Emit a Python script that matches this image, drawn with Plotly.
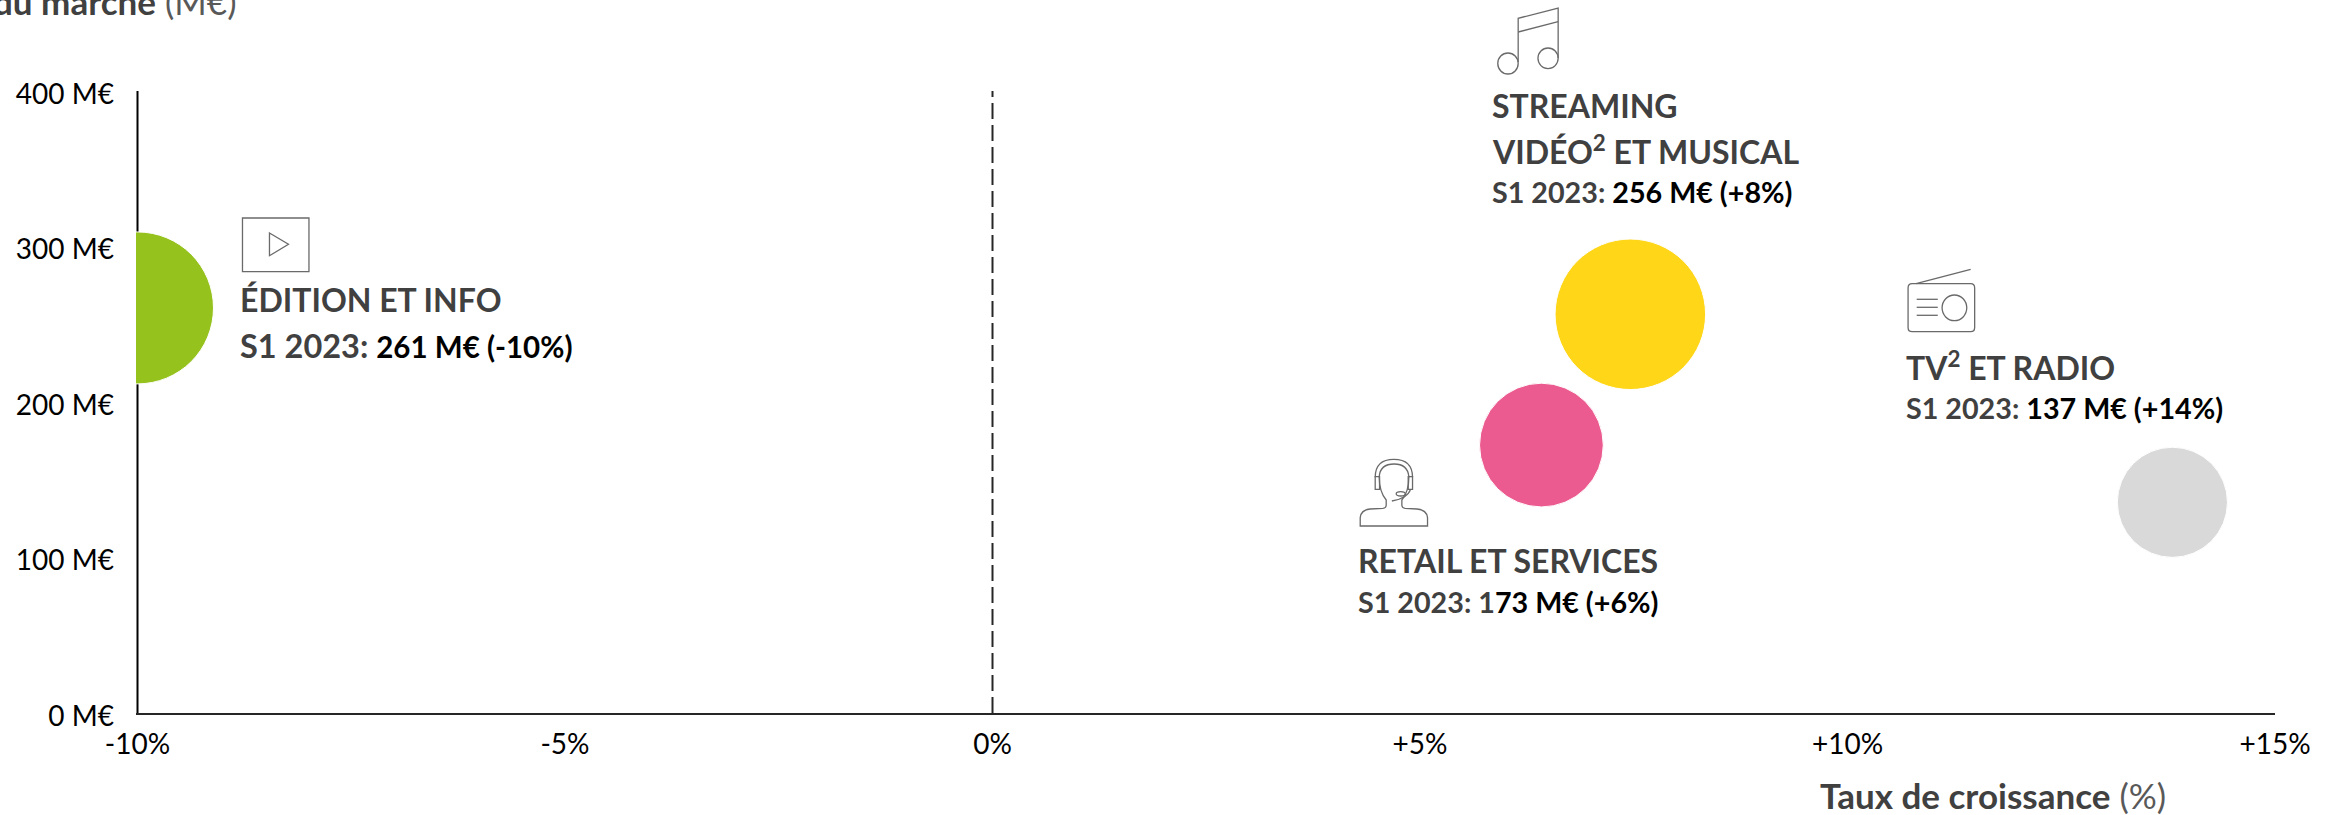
import plotly.graph_objects as go

# ---------- data ----------
segments = ["ÉDITION ET INFO", "STREAMING VIDÉO ET MUSICAL", "RETAIL ET SERVICES", "TV ET RADIO"]
growth = [-10, 7.46, 6.42, 13.8]
market = [260.5, 256.4, 172.3, 135.5]
bubble_size = [261, 256, 173, 137]
colors = ["#96C21D", "#FFD618", "#EC5B8F", "#D9D9D9"]
x_ticks = [-10, -5, 0, 5, 10, 15]
x_tick_labels = ["-10%", "-5%", "0%", "+5%", "+10%", "+15%"]
y_ticks = [0, 100, 200, 300, 400]
y_tick_labels = ["0 M€", "100 M€", "200 M€", "300 M€", "400 M€"]

FONT = "Lato"
GREY = "#404040"
W, H = 2333, 815
L, R, T, B = 135.5, 58, 91, 102
PW, PH = W - L - R, H - T - B


def px(x):
    return (x - L) / PW


def py(y):
    return (H - B - y) / PH


def P(x, y):
    return f"{px(x):.5f},{py(y):.5f}"


def path(*cmds):
    out = []
    for c in cmds:
        if isinstance(c, str):
            out.append(c)
        else:
            out.append(P(*c))
    return " ".join(out)


def ellipse_path(x0, x1, y0, y1):
    cx, cy = (x0 + x1) / 2, (y0 + y1) / 2
    rx, ry = (x1 - x0) / 2, (y1 - y0) / 2
    k = 0.5523
    return path(
        "M", (cx - rx, cy),
        "C", (cx - rx, cy - k * ry), (cx - k * rx, cy - ry), (cx, cy - ry),
        "C", (cx + k * rx, cy - ry), (cx + rx, cy - k * ry), (cx + rx, cy),
        "C", (cx + rx, cy + k * ry), (cx + k * rx, cy + ry), (cx, cy + ry),
        "C", (cx - k * rx, cy + ry), (cx - rx, cy + k * ry), (cx - rx, cy), "Z",
    )


def a(X, Y):
    # agent icon drawn in a 3x local grid
    return (1350 + X / 3, 450 + Y / 3)


fig = go.Figure()
fig.add_trace(go.Scatter(
    x=growth, y=market, mode="markers", text=segments, hoverinfo="text",
    marker=dict(size=bubble_size, sizemode="area", sizeref=1 / 44.25, color=colors,
                opacity=1, line=dict(color="white", width=1)),
    cliponaxis=True, showlegend=False,
))

icon_paths = [
    # play
    path("M", (242, 218), "L", (308.5, 218), "L", (308.5, 271.7), "L", (242, 271.7), "Z"),
    path("M", (269, 233), "L", (288, 244.3), "L", (269, 255.7), "Z"),
    # music
    ellipse_path(1497.6, 1518, 53, 74),
    ellipse_path(1537.8, 1558, 48, 68.7),
    path("M", (1518, 62), "L", (1518, 18.3), "L", (1558, 8), "L", (1558, 58)),
    path("M", (1518, 32), "L", (1558, 21.7)),
    # radio
    path("M", (1912, 283.7), "L", (1970.6, 283.7), "Q", (1974.6, 283.7), (1974.6, 288),
         "L", (1974.6, 327.5), "Q", (1974.6, 331.7), (1970.6, 331.7),
         "L", (1912, 331.7), "Q", (1908, 331.7), (1908, 327.5),
         "L", (1908, 288), "Q", (1908, 283.7), (1912, 283.7), "Z"),
    path("M", (1916, 283.7), "L", (1970.6, 269.3)),
    ellipse_path(1942, 1966.7, 295, 320.7),
    path("M", (1916.6, 299.3), "L", (1937.7, 299.3)),
    path("M", (1916.6, 307.3), "L", (1937.7, 307.3)),
    path("M", (1916.6, 315.3), "L", (1937.7, 315.3)),
    # agent: body, neck, head
    path("M", a(30, 228), "L", a(232, 228), "L", a(232, 203), "Q", a(230, 180), a(200, 177),
         "L", a(165, 175), "Q", a(155, 174), a(155, 165), "L", a(155, 150),
         "Q", a(176, 125), a(176, 80), "Q", a(172, 42), a(132, 42), "Q", a(90, 42), a(87, 80),
         "Q", a(87, 125), a(108, 150), "L", a(108, 165), "Q", a(108, 174), a(98, 175),
         "L", a(60, 177), "Q", a(32, 180), a(30, 203), "Z"),
    # agent: headset arc, ear cups, microphone
    path("M", a(75, 82), "Q", a(75, 28), a(131, 28), "Q", a(187, 28), a(187, 82)),
    path("M", a(75, 80), "L", a(88, 80), "L", a(88, 118), "L", a(75, 118), "Z"),
    path("M", a(174, 80), "L", a(187, 80), "L", a(187, 118), "L", a(174, 118), "Z"),
    path("M", a(181, 118), "Q", a(172, 145), a(125, 153)),
    ellipse_path(*a(138, 125)[:1], *a(165, 125)[:1], *a(0, 125)[1:], *a(0, 138)[1:]),
]

shapes = [
    dict(type="line", xref="x", yref="y", x0=-10, x1=-10, y0=0, y1=400, layer="below",
         line=dict(color="black", width=2)),
    dict(type="line", xref="x", yref="y", x0=0, x1=0, y0=0, y1=400, layer="below",
         line=dict(color="#262626", width=2, dash="16px,6px")),
]
for p in icon_paths:
    shapes.append(dict(type="path", xref="paper", yref="paper", path=p, layer="above",
                       line=dict(color="#6a6a6a", width=1.3), fillcolor="rgba(0,0,0,0)"))


def label(x, baseline, text, size, color=GREY, anchor="left"):
    # y centre of the annotation box relative to the text baseline
    return dict(xref="paper", yref="paper", x=px(x), y=py(baseline - 0.34 * size), text=text,
                showarrow=False, xanchor=anchor, yanchor="middle", align="left", borderpad=0,
                font=dict(family=FONT, size=size, color=color))


def value(text, size):
    return f'<span style="color:#000000;font-size:{size}px">{text}</span>'


annotations = [
    label(238.5, 310, "<b>ÉDITION ET INFO</b>", 32),
    label(238.5, 357, "<b>S1 2023: " + value("261 M€ (-10%)", 29.5) + "</b>", 32.5),
    label(1491, 116, "<b>STREAMING</b>", 32),
    label(1491, 160.5, "<b>VIDÉO<sup>2</sup> ET MUSICAL</b>", 32),
    label(1491, 201.5, "<b>S1 2023: " + value("256 M€ (+8%)", 28.7) + "</b>", 28.7),
    label(1904.5, 376.5, "<b>TV<sup>2</sup> ET RADIO</b>", 32),
    label(1904.5, 417.5, "<b>S1 2023: " + value("137 M€ (+14%)", 28.7) + "</b>", 28.7),
    label(1356.5, 571.5, "<b>RETAIL ET SERVICES</b>", 32),
    label(1356.5, 611.5, "<b>S1 2023: 1" + value("73 M€ (+6%)", 28.7) + "</b>", 28.7),
    label(2167, 807, '<b>Taux de croissance</b> <span style="color:#595959">(%)</span>', 35, anchor="right"),
    label(238, 13, '<b>du marché</b> <span style="color:#595959">(M€)</span>', 35, anchor="right"),
]

fig.update_layout(
    width=W, height=H, margin=dict(l=L, r=R, t=T, b=B, pad=0),
    paper_bgcolor="white", plot_bgcolor="white", showlegend=False,
    font=dict(family=FONT, size=28, color="black"),
    shapes=shapes, annotations=annotations,
    xaxis=dict(range=[-10.0175, 15], tickvals=x_ticks, ticktext=x_tick_labels, showgrid=False,
               zeroline=False, showline=True, linecolor="#262626", linewidth=2, ticks="",
               ticklabelstandoff=5, tickfont=dict(family=FONT, size=28, color="black")),
    yaxis=dict(range=[0, 400], tickvals=y_ticks, ticktext=y_tick_labels, showgrid=False,
               zeroline=False, showline=False, ticks="", ticklabelstandoff=21, ticklabelshift=3,
               tickfont=dict(family=FONT, size=28, color="black")),
)

fig.write_html("out.html", config={"displayModeBar": False},
               post_script="document.body.style.margin='0';")
